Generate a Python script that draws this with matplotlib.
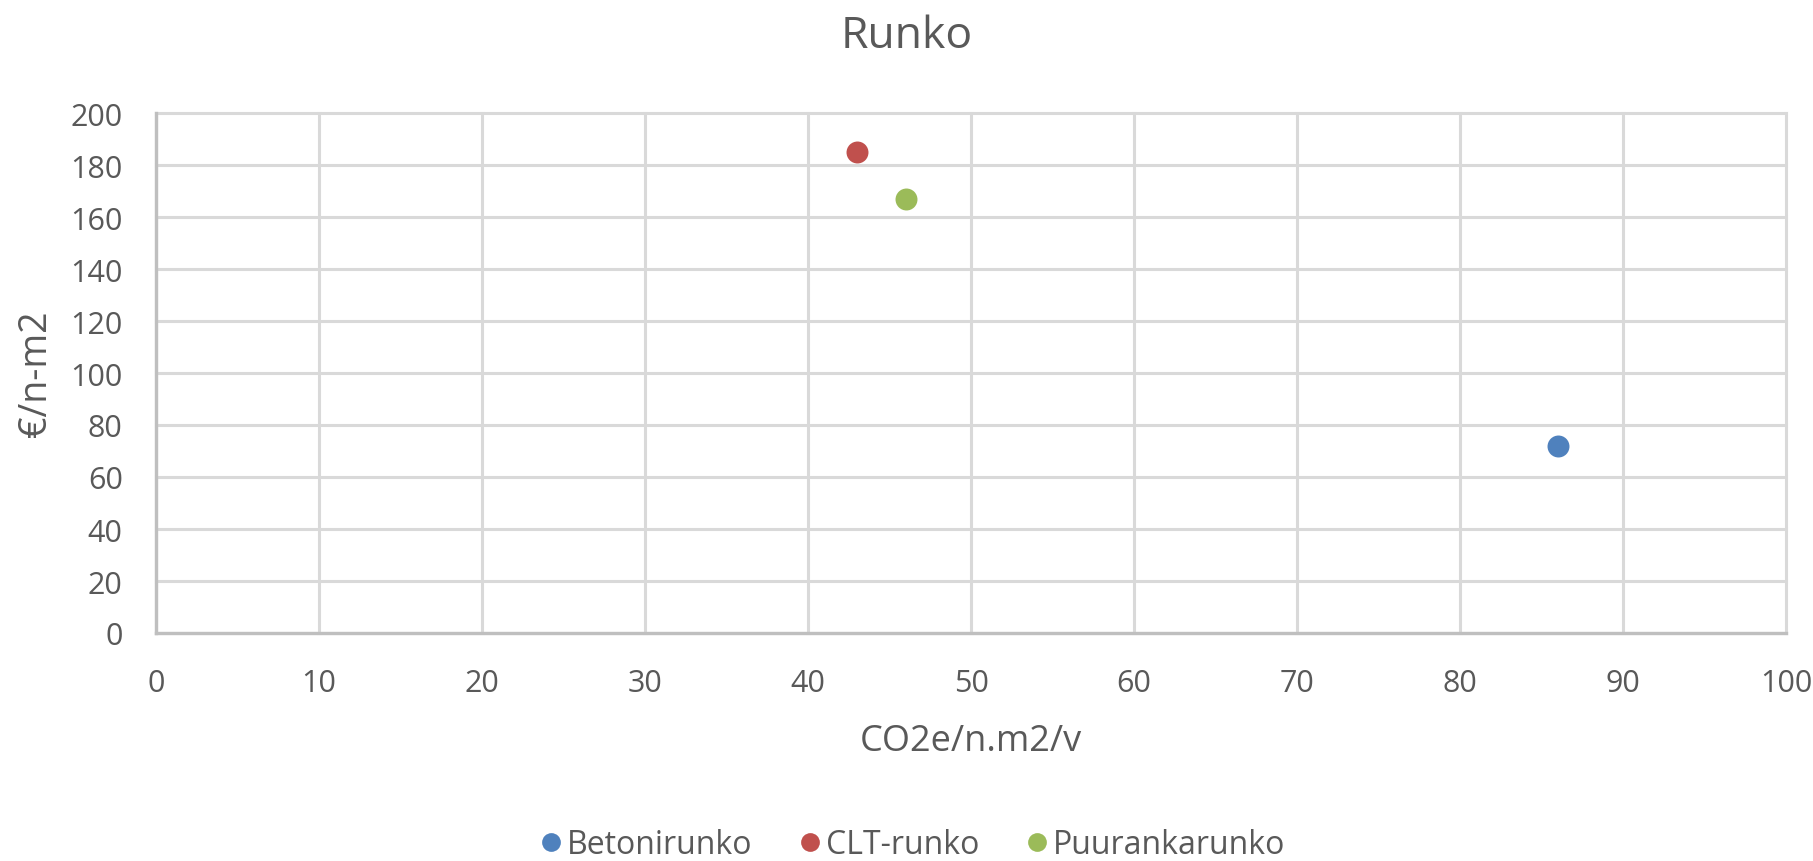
import matplotlib
matplotlib.use("Agg")
import matplotlib.pyplot as plt
from matplotlib.lines import Line2D

plt.rcParams['font.family'] = ['Open Sans', 'DejaVu Sans']

series = ["Betonirunko", "CLT-runko", "Puurankarunko"]
co2 = [86, 43, 46]
cost = [72, 185, 167]
colors = ["#4F81BD", "#C0504D", "#9BBB59"]

title = "Runko"
xlabel = "CO2e/n.m2/v"
ylabel = "€/n-m2"
xticks = list(range(0, 101, 10))
yticks = list(range(0, 201, 20))

W, H = 1813, 862
fig = plt.figure(figsize=(W / 100, H / 100), dpi=100)
L, R, T, B = 156, 1786, 114, 634
ax = fig.add_axes([L / W, 1 - B / H, (R - L) / W, (B - T) / H])

txt = "#595959"
for name, x, y, c in zip(series, co2, cost, colors):
    ax.scatter([x], [y], s=250, color=c, zorder=3, label=name, linewidths=0)

ax.set_xlim(0, 100)
ax.set_ylim(0, 200)
ax.set_xticks(xticks)
ax.set_yticks(yticks)
ax.grid(True, color="#D9D9D9", linewidth=2.2)
ax.set_axisbelow(True)
for gl in ax.get_xgridlines() + ax.get_ygridlines():
    gl.set_clip_on(False)
for s in ["top", "right"]:
    ax.spines[s].set_visible(False)
for s in ["left", "bottom"]:
    ax.spines[s].set_color("#BFBFBF")
    ax.spines[s].set_linewidth(2.4)
ax.tick_params(length=0, labelsize=22, labelcolor=txt)
ax.tick_params(axis="x", pad=25)
ax.tick_params(axis="y", pad=24)

ax.set_xlabel(xlabel, fontsize=26, color=txt, va="center")
ax.xaxis.set_label_coords(0.5, -(742 - B) / (B - T))
ax.set_ylabel(ylabel, fontsize=27, color=txt, va="center")
ax.yaxis.set_label_coords(-(L - 36) / (R - L), 0.5)
fig.text(907 / W, 1 - 37 / H, title, ha="center", va="center", fontsize=32, color=txt)

handles = [Line2D([], [], marker="o", linestyle="", markersize=13.5, markerfacecolor=c,
                  markeredgewidth=0) for c in colors]
fig.legend(handles, series, loc="center", bbox_to_anchor=(910 / W, 1 - 846 / H), ncol=3,
           frameon=False, fontsize=23, labelcolor=txt, handletextpad=0.0,
           columnspacing=1.3, handlelength=1.0, borderpad=0)

fig.savefig("out.png", dpi=100, facecolor="white")
